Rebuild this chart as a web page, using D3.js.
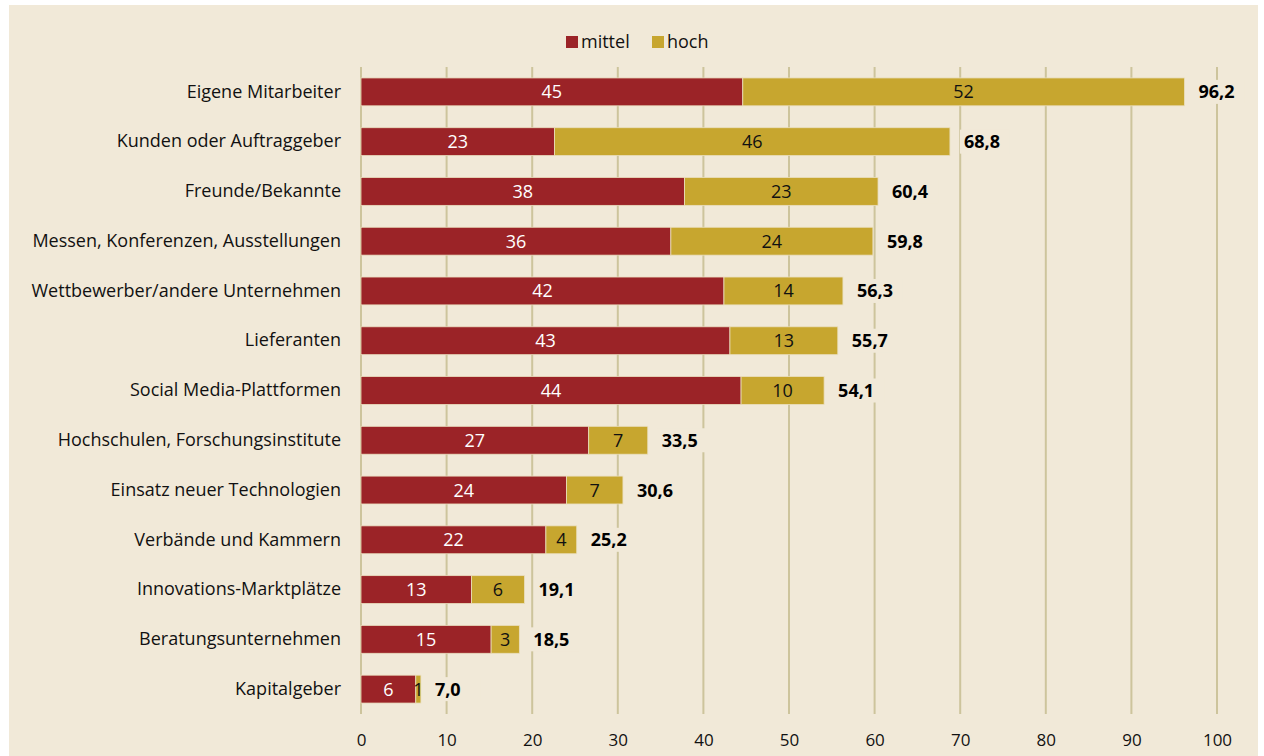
<!DOCTYPE html>
<html>
<head>
<meta charset="utf-8">
<script src="https://cdn.jsdelivr.net/npm/d3@7"></script>
<style>
  html, body { margin: 0; padding: 0; background: #ffffff; }
  svg { display: block; }
  text { font-family: "Open Sans", "Noto Sans", sans-serif; }
</style>
</head>
<body>
<svg id="chart" width="1264" height="756"></svg>
<script>
// Impulsgeber für Innovationen: Anteil "mittel" und "hoch" in Prozent
const categories = [
  "Eigene Mitarbeiter",
  "Kunden oder Auftraggeber",
  "Freunde/Bekannte",
  "Messen, Konferenzen, Ausstellungen",
  "Wettbewerber/andere Unternehmen",
  "Lieferanten",
  "Social Media-Plattformen",
  "Hochschulen, Forschungsinstitute",
  "Einsatz neuer Technologien",
  "Verbände und Kammern",
  "Innovations-Marktplätze",
  "Beratungsunternehmen",
  "Kapitalgeber"
];
const mittel = [44.6, 22.6, 37.8, 36.2, 42.4, 43.1, 44.4, 26.6, 24.0, 21.6, 12.9, 15.2, 6.4];
const hoch   = [51.6, 46.2, 22.6, 23.6, 13.9, 12.6,  9.7,  6.9,  6.6,  3.6,  6.2,  3.3, 0.6];
const totals = [96.2, 68.8, 60.4, 59.8, 56.3, 55.7, 54.1, 33.5, 30.6, 25.2, 19.1, 18.5, 7.0];
const seriesNames = ["mittel", "hoch"];
const xTicks = [0, 10, 20, 30, 40, 50, 60, 70, 80, 90, 100];

const colors = { mittel: "#9b2327", hoch: "#c7a62f" };
const bg = "#f1e9d8";
const gridColor = "#cdc49c";
const fontSize = 18;
const tickFontSize = 17;

const svg = d3.select("#chart");
const W = 1264, H = 756;

// panel
svg.append("rect").attr("x", 9).attr("y", 5).attr("width", W - 15).attr("height", H - 5).attr("fill", bg);

const margin = { left: 361, right: 47, top: 67, bottom: 42 };
const x = d3.scaleLinear().domain([0, 100]).range([margin.left, W - margin.right]);
const y = d3.scaleBand().domain(categories).range([margin.top, H - margin.bottom]).paddingInner(0.44).paddingOuter(0.22);

// vertical gridlines
svg.append("g").selectAll("line").data(xTicks).join("line")
  .attr("x1", d => x(d)).attr("x2", d => x(d))
  .attr("y1", margin.top).attr("y2", H - margin.bottom)
  .attr("stroke", gridColor).attr("stroke-width", 2);

// stacked data
const rows = categories.map((c, i) => ({ cat: c, mittel: mittel[i], hoch: hoch[i], total: totals[i] }));
const stack = d3.stack().keys(seriesNames)(rows);

const fmt0 = d3.format(".0f");
const fmtTotal = v => d3.format(".1f")(v).replace(".", ",");

const layers = svg.append("g").selectAll("g").data(stack).join("g")
  .attr("fill", d => colors[d.key]);

layers.selectAll("rect").data(d => d).join("rect")
  .attr("x", d => x(d[0]))
  .attr("y", d => y(d.data.cat))
  .attr("width", d => x(d[1]) - x(d[0]))
  .attr("height", y.bandwidth())
  .attr("stroke", "#eadfbf").attr("stroke-width", 0.8);

// segment value labels
stack.forEach(layer => {
  svg.append("g").selectAll("text").data(layer).join("text")
    .attr("x", d => (x(d[0]) + x(d[1])) / 2)
    .attr("y", d => y(d.data.cat) + y.bandwidth() / 2)
    .attr("dy", "0.36em")
    .attr("text-anchor", "middle")
    .attr("font-size", fontSize)
    .attr("fill", layer.key === "mittel" ? "#ffffff" : "#111111")
    .text(d => fmt0(d[1] - d[0]));
});

// total labels with background box
const tot = svg.append("g").selectAll("g").data(rows).join("g")
  .attr("transform", d => `translate(${x(d.total) + 14},${y(d.cat) + y.bandwidth() / 2})`);
tot.append("rect")
  .attr("x", -4).attr("y", -12).attr("width", 50).attr("height", 24)
  .attr("fill", bg);
tot.append("text")
  .attr("dy", "0.36em")
  .attr("font-size", fontSize).attr("font-weight", "bold").attr("fill", "#000")
  .text(d => fmtTotal(d.total));

// category axis
const yAxis = svg.append("g")
  .attr("transform", `translate(${margin.left - 20},0)`)
  .call(d3.axisLeft(y).tickSize(0).tickPadding(0));
yAxis.select(".domain").remove();
yAxis.selectAll("text").attr("font-size", fontSize).attr("fill", "#111").attr("font-family", "'Open Sans', sans-serif");

// value axis
const xAxis = svg.append("g")
  .attr("transform", `translate(0,${H - margin.bottom})`)
  .call(d3.axisBottom(x).tickValues(xTicks).tickSize(0).tickPadding(20).tickFormat(d3.format("d")));
xAxis.select(".domain").remove();
xAxis.selectAll("text").attr("font-size", tickFontSize).attr("fill", "#111").attr("font-family", "'Open Sans', sans-serif");

// legend
const legend = svg.append("g").attr("transform", "translate(566,42)");
const items = [
  { key: "mittel", dx: 0 },
  { key: "hoch", dx: 86 }
];
const li = legend.selectAll("g").data(items).join("g")
  .attr("transform", d => `translate(${d.dx},0)`);
li.append("rect").attr("x", 0).attr("y", -6).attr("width", 12).attr("height", 12)
  .attr("fill", d => colors[d.key]);
li.append("text").attr("x", 15).attr("dy", "0.36em")
  .attr("font-size", fontSize).attr("fill", "#111").text(d => d.key);
</script>
</body>
</html>
